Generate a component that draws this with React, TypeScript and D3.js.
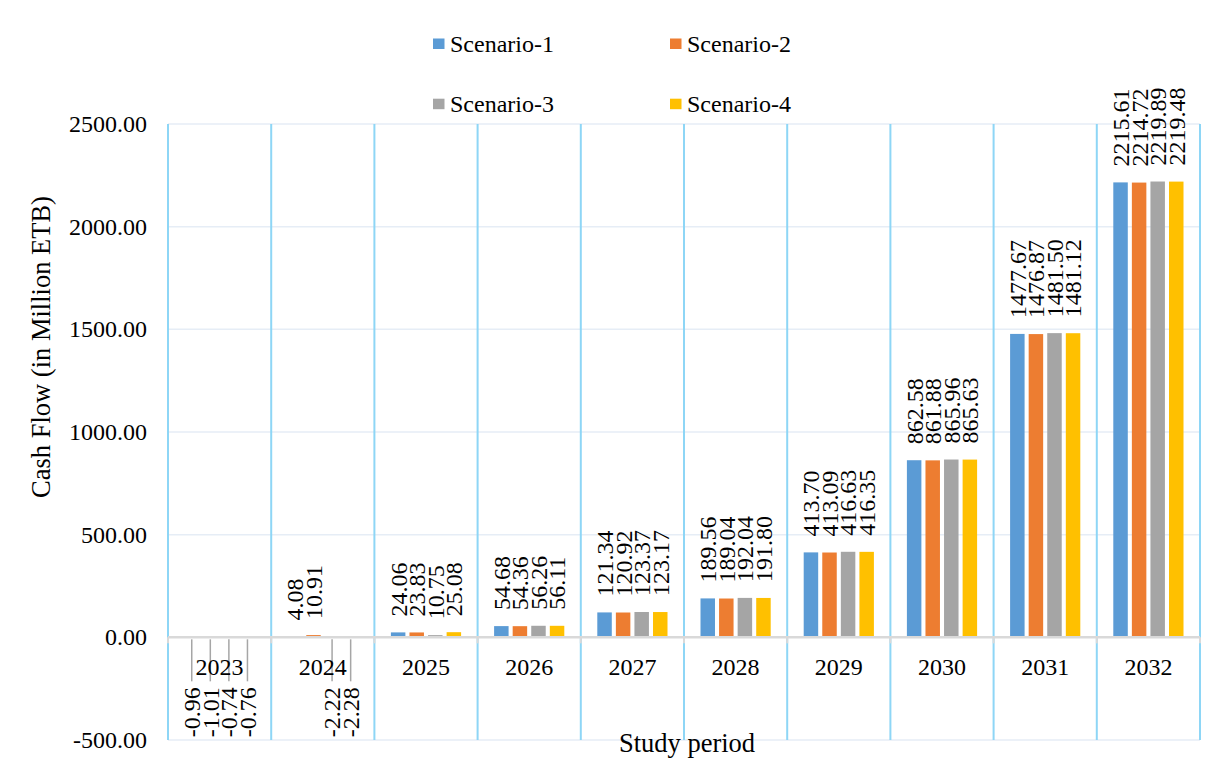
import React from "react";
import * as d3 from "d3";

const years = ["2023", "2024", "2025", "2026", "2027", "2028", "2029", "2030", "2031", "2032"];
const seriesNames = ["Scenario-1", "Scenario-2", "Scenario-3", "Scenario-4"];
const scenario1 = [-0.96, 4.08, 24.06, 54.68, 121.34, 189.56, 413.7, 862.58, 1477.67, 2215.61];
const scenario2 = [-1.01, 10.91, 23.83, 54.36, 120.92, 189.04, 413.09, 861.88, 1476.87, 2214.72];
const scenario3 = [-0.74, -2.22, 10.75, 56.26, 123.37, 192.04, 416.63, 865.96, 1481.5, 2219.89];
const scenario4 = [-0.76, -2.28, 25.08, 56.11, 123.17, 191.8, 416.35, 865.63, 1481.12, 2219.48];
const yTicks = [-500, 0, 500, 1000, 1500, 2000, 2500];

const seriesValues = [scenario1, scenario2, scenario3, scenario4];
const colors = ["#5b9bd5", "#ed7d31", "#a5a5a5", "#ffc000"];

const W = 1215;
const H = 766;
const plot = { left: 168, right: 1200, top: 124, bottom: 740 };
const FONT = "'Liberation Serif', 'Times New Roman', serif";
const FS = 24;

// two decimals with an ASCII hyphen for negatives
const fmt = d3.formatLocale({ decimal: ".", thousands: ",", grouping: [3], currency: ["", ""], minus: "-" }).format(".2f");

export default function App() {
  const x0 = d3.scaleBand<string>().domain(years).range([plot.left, plot.right]).padding(0);
  const x1 = d3
    .scaleBand<string>()
    .domain(seriesNames)
    .range([16.5, x0.bandwidth() - 16.5])
    .paddingInner(0.22)
    .paddingOuter(0);
  const y = d3.scaleLinear().domain([-500, 2500]).range([plot.bottom, plot.top]);
  const y0 = y(0);

  const bars = years.flatMap((yr, i) =>
    seriesNames.map((s, j) => ({ yr, s, j, v: seriesValues[j][i] }))
  );

  const boundaries = years.map((yr) => x0(yr)!).concat([plot.right]);
  const txt = { fontFamily: FONT, fontSize: FS } as React.CSSProperties;

  return (
    <div style={{ margin: -8 }}>
      <svg width={W} height={H} style={{ display: "block", fontFamily: FONT }}>
        <rect x={0} y={0} width={W} height={H} fill="#fff" />
        <rect x={1.5} y={0.5} width={W - 3} height={H - 1} fill="none" stroke="#d9d9d9" strokeWidth={1.5} />

        {/* horizontal gridlines */}
        {yTicks.map((t) => (
          <line key={"h" + t} x1={plot.left} x2={plot.right} y1={y(t)} y2={y(t)} stroke="#e6edf6" strokeWidth={1.5} />
        ))}
        {/* vertical category separators */}
        {boundaries.map((bx, i) => (
          <line key={"v" + i} x1={bx} x2={bx} y1={plot.top} y2={plot.bottom} stroke="#8ed6f6" strokeWidth={2} />
        ))}

        {/* y tick labels */}
        {yTicks.map((t) => (
          <text key={"yt" + t} x={147} y={y(t)} dy="0.33em" textAnchor="end" style={txt} fill="#000">
            {fmt(t)}
          </text>
        ))}

        {/* bars */}
        {bars.map((b) => {
          const bx = x0(b.yr)! + x1(b.s)!;
          const top = Math.min(y(b.v), y0);
          const h = Math.abs(y(b.v) - y0);
          return <rect key={b.yr + b.s} x={bx} y={top} width={x1.bandwidth()} height={h} fill={colors[b.j]} />;
        })}

        {/* zero axis with tick stubs */}
        <line x1={plot.left} x2={plot.right} y1={y0} y2={y0} stroke="#d9d9d9" strokeWidth={2.5} />
        {boundaries.map((bx, i) => (
          <line key={"tk" + i} x1={bx} x2={bx} y1={y0} y2={y0 + 6} stroke="#d9d9d9" strokeWidth={2} />
        ))}

        {/* leader lines for negative values */}
        {bars
          .filter((b) => b.v < 0)
          .map((b) => {
            const cx = x0(b.yr)! + x1(b.s)! + x1.bandwidth() / 2;
            return (
              <line key={"ld" + b.yr + b.s} x1={cx} x2={cx} y1={y0 + 2} y2={y0 + 44} stroke="#a6a6a6" strokeWidth={1.5} />
            );
          })}

        {/* category labels */}
        {years.map((yr) => (
          <text key={"c" + yr} x={x0(yr)! + x0.bandwidth() / 2} y={675} textAnchor="middle" style={txt} fill="#000">
            {yr}
          </text>
        ))}

        {/* value labels */}
        {bars.map((b) => {
          const cx = x0(b.yr)! + x1(b.s)! + x1.bandwidth() / 2;
          const neg = b.v < 0;
          const ay = neg ? y0 + 50 : y(b.v) - 16;
          return (
            <text
              key={"l" + b.yr + b.s}
              transform={`translate(${cx},${ay}) rotate(-90)`}
              dy="0.35em"
              textAnchor={neg ? "end" : "start"}
              style={txt}
              fill="#000"
            >
              {fmt(b.v)}
            </text>
          );
        })}

        {/* legend */}
        {seriesNames.map((s, j) => {
          const lx = j % 2 === 0 ? 433 : 670;
          const ly = j < 2 ? 38.5 : 98.7;
          return (
            <g key={"lg" + s}>
              <rect x={lx} y={ly} width={11.5} height={10.5} fill={colors[j]} />
              <text x={lx + 17} y={ly + 13.3} style={txt} fill="#000">
                {s}
              </text>
            </g>
          );
        })}

        {/* axis titles */}
        <text transform="translate(50,347) rotate(-90)" textAnchor="middle" style={{ fontFamily: FONT, fontSize: 26.5 }} fill="#000">
          Cash Flow (in Million ETB)
        </text>
        <text x={687} y={752} textAnchor="middle" style={{ fontFamily: FONT, fontSize: 26.5 }} fill="#000">
          Study period
        </text>
      </svg>
    </div>
  );
}
